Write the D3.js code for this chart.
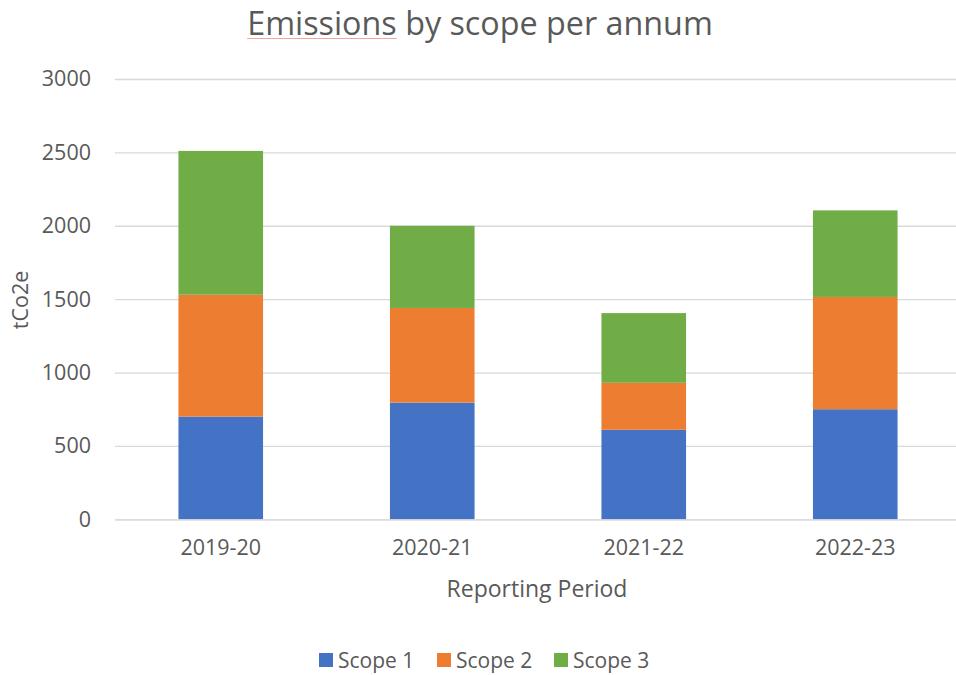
<!DOCTYPE html>
<html>
<head>
<meta charset="utf-8">
<script src="https://cdn.jsdelivr.net/npm/d3@7"></script>
<style>
  html, body { margin: 0; padding: 0; background: #fff; }
  svg { display: block; font-family: "Open Sans", "Noto Sans", sans-serif; }
</style>
</head>
<body>
<svg id="chart" width="956" height="675"></svg>
<script>
const categories = ["2019-20", "2020-21", "2021-22", "2022-23"];
const seriesNames = ["Scope 1", "Scope 2", "Scope 3"];
const scope1 = [700, 795, 610, 750];
const scope2 = [830, 645, 320, 765];
const scope3 = [980, 560, 475, 590];
const yTicks = [0, 500, 1000, 1500, 2000, 2500, 3000];
const colors = ["#4472C4", "#ED7D31", "#70AD47"];

const rows = categories.map((c, i) => ({ cat: c, "Scope 1": scope1[i], "Scope 2": scope2[i], "Scope 3": scope3[i] }));
const stacked = d3.stack().keys(seriesNames)(rows);

const svg = d3.select("#chart");
const textColor = "#595959";

const x = d3.scaleBand().domain(categories).range([115, 961]).paddingInner(0.6).paddingOuter(0.3);
const y = d3.scaleLinear().domain([0, 3000]).range([519.3, 79]);

// gridlines
const yAxis = d3.axisLeft(y).tickValues(yTicks).tickSize(-(961 - 115)).tickPadding(24).tickFormat(d3.format("d"));
const gy = svg.append("g").attr("transform", "translate(115,0)").call(yAxis);
gy.select(".domain").remove();
gy.selectAll(".tick line").attr("stroke", "#d9d9d9").attr("stroke-width", 1.3);
gy.selectAll(".tick text").attr("fill", textColor).attr("font-size", 21.5).attr("font-family", "Open Sans");

// bars
svg.append("g").selectAll("g").data(stacked).join("g")
  .attr("fill", (d, i) => colors[i])
  .selectAll("rect").data(d => d).join("rect")
  .attr("x", d => x(d.data.cat))
  .attr("width", x.bandwidth())
  .attr("y", d => y(d[1]))
  .attr("height", d => y(d[0]) - y(d[1]));

// x axis
const xAxis = d3.axisBottom(x).tickSize(0).tickPadding(20);
const gx = svg.append("g").attr("transform", "translate(0,519.3)").call(xAxis);
gx.select(".domain").attr("stroke", "#d9d9d9").attr("stroke-width", 1.3);
gx.selectAll(".tick text").attr("fill", textColor).attr("font-size", 21.5).attr("font-family", "Open Sans");

// title
const title = svg.append("text").attr("x", 480).attr("y", 35).attr("text-anchor", "middle")
  .attr("fill", textColor).attr("font-size", 32.3).text("Emissions by scope per annum");

// spell-check underline under "Emissions"
let ux1 = 248, ux2 = 398;
try {
  const e0 = title.node().getExtentOfChar(0);
  const e8 = title.node().getExtentOfChar(8);
  ux1 = e0.x; ux2 = e8.x + e8.width;
} catch (err) {}
svg.append("line").attr("x1", ux1).attr("x2", ux2).attr("y1", 38.5).attr("y2", 38.5)
  .attr("stroke", "#f4a3a3").attr("stroke-width", 1.2);

// axis titles
svg.append("text").attr("transform", "translate(28,300) rotate(-90)").attr("text-anchor", "middle")
  .attr("fill", textColor).attr("font-size", 21.5).text("tCo2e");
svg.append("text").attr("x", 537).attr("y", 597).attr("text-anchor", "middle")
  .attr("fill", textColor).attr("font-size", 23).text("Reporting Period");

// legend
const legendX = [319, 437, 554];
const lg = svg.append("g").selectAll("g").data(seriesNames).join("g")
  .attr("transform", (d, i) => `translate(${legendX[i]},653)`);
lg.append("rect").attr("width", 14).attr("height", 14).attr("fill", (d, i) => colors[i]);
lg.append("text").attr("x", 19).attr("y", 14.5).attr("fill", textColor).attr("font-size", 21).text(d => d);
</script>
</body>
</html>
